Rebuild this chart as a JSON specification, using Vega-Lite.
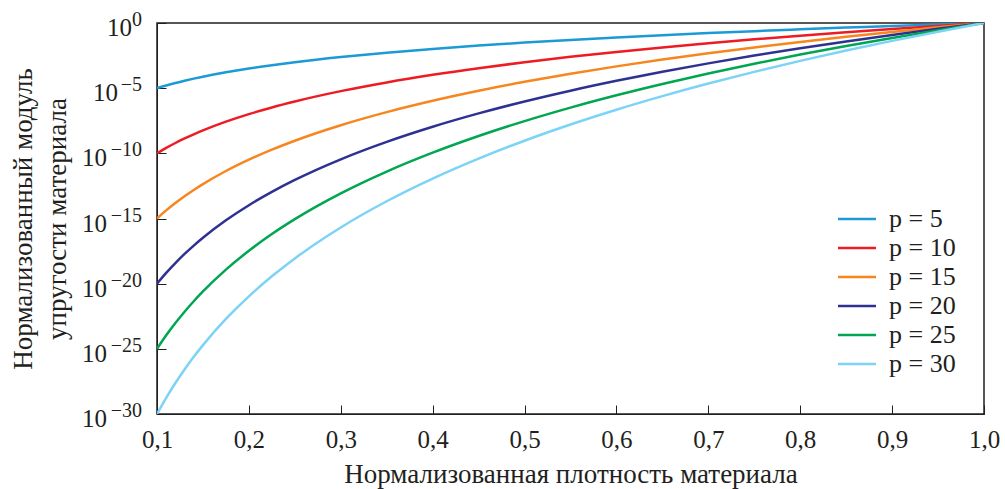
{
  "$schema": "https://vega.github.io/schema/vega-lite/v6.json",
  "width": 827,
  "height": 391,
  "autosize": {"type": "none"},
  "padding": {"left": 157, "top": 23, "right": 21, "bottom": 75},
  "background": "white",
  "config": {
    "font": "Liberation Serif",
    "view": {"stroke": "#231f20", "strokeWidth": 1.5},
    "axis": {
      "labelFont": "Liberation Serif",
      "titleFont": "Liberation Serif",
      "labelColor": "#231f20",
      "titleColor": "#231f20",
      "domainColor": "#231f20",
      "tickColor": "#231f20",
      "labelFontSize": 25,
      "titleFontSize": 27,
      "titleFontWeight": "normal",
      "grid": false,
      "tickSize": -9,
      "tickWidth": 1
    },
    "legend": {
      "labelFont": "Liberation Serif",
      "labelFontSize": 26,
      "labelColor": "#231f20"
    },
    "text": {"font": "Liberation Serif", "color": "#231f20", "baseline": "alphabetic"}
  },
  "datasets": {
    "ylabels": [
      {"lg": 0, "base": "10", "e": "0"},
      {"lg": -5, "base": "10", "e": "−5"},
      {"lg": -10, "base": "10", "e": "−10"},
      {"lg": -15, "base": "10", "e": "−15"},
      {"lg": -20, "base": "10", "e": "−20"},
      {"lg": -25, "base": "10", "e": "−25"},
      {"lg": -30, "base": "10", "e": "−30"}
    ]
  },
  "layer": [
    {
      "data": {
        "values": [
          {"x": 0.10, "p": "p = 5", "lg": -5}, {"x": 0.11, "p": "p = 5", "lg": -4.793}, {"x": 0.12, "p": "p = 5", "lg": -4.604}, {"x": 0.13, "p": "p = 5", "lg": -4.430}, {"x": 0.14, "p": "p = 5", "lg": -4.269}, {"x": 0.15, "p": "p = 5", "lg": -4.120}, {"x": 0.175, "p": "p = 5", "lg": -3.785}, {"x": 0.20, "p": "p = 5", "lg": -3.495}, {"x": 0.225, "p": "p = 5", "lg": -3.239}, {"x": 0.25, "p": "p = 5", "lg": -3.010}, {"x": 0.30, "p": "p = 5", "lg": -2.614}, {"x": 0.35, "p": "p = 5", "lg": -2.280}, {"x": 0.40, "p": "p = 5", "lg": -1.990}, {"x": 0.45, "p": "p = 5", "lg": -1.734}, {"x": 0.50, "p": "p = 5", "lg": -1.505}, {"x": 0.55, "p": "p = 5", "lg": -1.298}, {"x": 0.60, "p": "p = 5", "lg": -1.109}, {"x": 0.65, "p": "p = 5", "lg": -0.935}, {"x": 0.70, "p": "p = 5", "lg": -0.775}, {"x": 0.75, "p": "p = 5", "lg": -0.625}, {"x": 0.80, "p": "p = 5", "lg": -0.485}, {"x": 0.85, "p": "p = 5", "lg": -0.353}, {"x": 0.90, "p": "p = 5", "lg": -0.229}, {"x": 0.95, "p": "p = 5", "lg": -0.111}, {"x": 1.00, "p": "p = 5", "lg": 0},
          {"x": 0.10, "p": "p = 10", "lg": -10}, {"x": 0.11, "p": "p = 10", "lg": -9.586}, {"x": 0.12, "p": "p = 10", "lg": -9.208}, {"x": 0.13, "p": "p = 10", "lg": -8.861}, {"x": 0.14, "p": "p = 10", "lg": -8.539}, {"x": 0.15, "p": "p = 10", "lg": -8.239}, {"x": 0.175, "p": "p = 10", "lg": -7.570}, {"x": 0.20, "p": "p = 10", "lg": -6.990}, {"x": 0.225, "p": "p = 10", "lg": -6.478}, {"x": 0.25, "p": "p = 10", "lg": -6.021}, {"x": 0.30, "p": "p = 10", "lg": -5.229}, {"x": 0.35, "p": "p = 10", "lg": -4.559}, {"x": 0.40, "p": "p = 10", "lg": -3.979}, {"x": 0.45, "p": "p = 10", "lg": -3.468}, {"x": 0.50, "p": "p = 10", "lg": -3.010}, {"x": 0.55, "p": "p = 10", "lg": -2.596}, {"x": 0.60, "p": "p = 10", "lg": -2.218}, {"x": 0.65, "p": "p = 10", "lg": -1.871}, {"x": 0.70, "p": "p = 10", "lg": -1.549}, {"x": 0.75, "p": "p = 10", "lg": -1.249}, {"x": 0.80, "p": "p = 10", "lg": -0.969}, {"x": 0.85, "p": "p = 10", "lg": -0.706}, {"x": 0.90, "p": "p = 10", "lg": -0.458}, {"x": 0.95, "p": "p = 10", "lg": -0.223}, {"x": 1.00, "p": "p = 10", "lg": 0},
          {"x": 0.10, "p": "p = 15", "lg": -15}, {"x": 0.11, "p": "p = 15", "lg": -14.379}, {"x": 0.12, "p": "p = 15", "lg": -13.812}, {"x": 0.13, "p": "p = 15", "lg": -13.291}, {"x": 0.14, "p": "p = 15", "lg": -12.808}, {"x": 0.15, "p": "p = 15", "lg": -12.359}, {"x": 0.175, "p": "p = 15", "lg": -11.354}, {"x": 0.20, "p": "p = 15", "lg": -10.485}, {"x": 0.225, "p": "p = 15", "lg": -9.717}, {"x": 0.25, "p": "p = 15", "lg": -9.031}, {"x": 0.30, "p": "p = 15", "lg": -7.843}, {"x": 0.35, "p": "p = 15", "lg": -6.839}, {"x": 0.40, "p": "p = 15", "lg": -5.969}, {"x": 0.45, "p": "p = 15", "lg": -5.202}, {"x": 0.50, "p": "p = 15", "lg": -4.515}, {"x": 0.55, "p": "p = 15", "lg": -3.895}, {"x": 0.60, "p": "p = 15", "lg": -3.328}, {"x": 0.65, "p": "p = 15", "lg": -2.806}, {"x": 0.70, "p": "p = 15", "lg": -2.324}, {"x": 0.75, "p": "p = 15", "lg": -1.874}, {"x": 0.80, "p": "p = 15", "lg": -1.454}, {"x": 0.85, "p": "p = 15", "lg": -1.059}, {"x": 0.90, "p": "p = 15", "lg": -0.686}, {"x": 0.95, "p": "p = 15", "lg": -0.334}, {"x": 1.00, "p": "p = 15", "lg": 0},
          {"x": 0.10, "p": "p = 20", "lg": -20}, {"x": 0.11, "p": "p = 20", "lg": -19.172}, {"x": 0.12, "p": "p = 20", "lg": -18.416}, {"x": 0.13, "p": "p = 20", "lg": -17.721}, {"x": 0.14, "p": "p = 20", "lg": -17.077}, {"x": 0.15, "p": "p = 20", "lg": -16.478}, {"x": 0.175, "p": "p = 20", "lg": -15.139}, {"x": 0.20, "p": "p = 20", "lg": -13.979}, {"x": 0.225, "p": "p = 20", "lg": -12.956}, {"x": 0.25, "p": "p = 20", "lg": -12.041}, {"x": 0.30, "p": "p = 20", "lg": -10.458}, {"x": 0.35, "p": "p = 20", "lg": -9.119}, {"x": 0.40, "p": "p = 20", "lg": -7.959}, {"x": 0.45, "p": "p = 20", "lg": -6.936}, {"x": 0.50, "p": "p = 20", "lg": -6.021}, {"x": 0.55, "p": "p = 20", "lg": -5.193}, {"x": 0.60, "p": "p = 20", "lg": -4.437}, {"x": 0.65, "p": "p = 20", "lg": -3.742}, {"x": 0.70, "p": "p = 20", "lg": -3.098}, {"x": 0.75, "p": "p = 20", "lg": -2.499}, {"x": 0.80, "p": "p = 20", "lg": -1.938}, {"x": 0.85, "p": "p = 20", "lg": -1.412}, {"x": 0.90, "p": "p = 20", "lg": -0.915}, {"x": 0.95, "p": "p = 20", "lg": -0.446}, {"x": 1.00, "p": "p = 20", "lg": 0},
          {"x": 0.10, "p": "p = 25", "lg": -25}, {"x": 0.11, "p": "p = 25", "lg": -23.965}, {"x": 0.12, "p": "p = 25", "lg": -23.020}, {"x": 0.13, "p": "p = 25", "lg": -22.151}, {"x": 0.14, "p": "p = 25", "lg": -21.347}, {"x": 0.15, "p": "p = 25", "lg": -20.598}, {"x": 0.175, "p": "p = 25", "lg": -18.924}, {"x": 0.20, "p": "p = 25", "lg": -17.474}, {"x": 0.225, "p": "p = 25", "lg": -16.195}, {"x": 0.25, "p": "p = 25", "lg": -15.052}, {"x": 0.30, "p": "p = 25", "lg": -13.072}, {"x": 0.35, "p": "p = 25", "lg": -11.398}, {"x": 0.40, "p": "p = 25", "lg": -9.949}, {"x": 0.45, "p": "p = 25", "lg": -8.670}, {"x": 0.50, "p": "p = 25", "lg": -7.526}, {"x": 0.55, "p": "p = 25", "lg": -6.491}, {"x": 0.60, "p": "p = 25", "lg": -5.546}, {"x": 0.65, "p": "p = 25", "lg": -4.677}, {"x": 0.70, "p": "p = 25", "lg": -3.873}, {"x": 0.75, "p": "p = 25", "lg": -3.123}, {"x": 0.80, "p": "p = 25", "lg": -2.423}, {"x": 0.85, "p": "p = 25", "lg": -1.765}, {"x": 0.90, "p": "p = 25", "lg": -1.144}, {"x": 0.95, "p": "p = 25", "lg": -0.557}, {"x": 1.00, "p": "p = 25", "lg": 0},
          {"x": 0.10, "p": "p = 30", "lg": -30}, {"x": 0.11, "p": "p = 30", "lg": -28.758}, {"x": 0.12, "p": "p = 30", "lg": -27.625}, {"x": 0.13, "p": "p = 30", "lg": -26.582}, {"x": 0.14, "p": "p = 30", "lg": -25.616}, {"x": 0.15, "p": "p = 30", "lg": -24.717}, {"x": 0.175, "p": "p = 30", "lg": -22.709}, {"x": 0.20, "p": "p = 30", "lg": -20.969}, {"x": 0.225, "p": "p = 30", "lg": -19.435}, {"x": 0.25, "p": "p = 30", "lg": -18.062}, {"x": 0.30, "p": "p = 30", "lg": -15.686}, {"x": 0.35, "p": "p = 30", "lg": -13.678}, {"x": 0.40, "p": "p = 30", "lg": -11.938}, {"x": 0.45, "p": "p = 30", "lg": -10.404}, {"x": 0.50, "p": "p = 30", "lg": -9.031}, {"x": 0.55, "p": "p = 30", "lg": -7.789}, {"x": 0.60, "p": "p = 30", "lg": -6.655}, {"x": 0.65, "p": "p = 30", "lg": -5.613}, {"x": 0.70, "p": "p = 30", "lg": -4.647}, {"x": 0.75, "p": "p = 30", "lg": -3.748}, {"x": 0.80, "p": "p = 30", "lg": -2.907}, {"x": 0.85, "p": "p = 30", "lg": -2.117}, {"x": 0.90, "p": "p = 30", "lg": -1.373}, {"x": 0.95, "p": "p = 30", "lg": -0.668}, {"x": 1.00, "p": "p = 30", "lg": 0}
        ]
      },
      "mark": {"type": "line", "strokeWidth": 2.5, "interpolate": "monotone", "clip": true},
      "encoding": {
        "x": {
          "field": "x",
          "type": "quantitative",
          "scale": {"domain": [0.1, 1.0], "nice": false, "zero": false},
          "axis": {
            "values": [0.1, 0.2, 0.3, 0.4, 0.5, 0.6, 0.7, 0.8, 0.9, 1.0],
            "labelExpr": "replace(format(datum.value, '.1f'), '.', ',')",
            "labelPadding": 22,
            "labelFlush": false,
            "title": "Нормализованная плотность материала",
            "titleY": 68,
            "titleBaseline": "alphabetic"
          }
        },
        "y": {
          "field": "lg",
          "type": "quantitative",
          "scale": {"domain": [-30, 0], "nice": false, "zero": false},
          "axis": {
            "values": [-30, -25, -20, -15, -10, -5, 0],
            "labels": false,
            "title": ["Нормализованный модуль", "упругости материала"],
            "titleX": -147,
            "titleBaseline": "top",
            "titleLineHeight": 34
          }
        },
        "color": {
          "field": "p",
          "type": "nominal",
          "scale": {
            "domain": ["p = 5", "p = 10", "p = 15", "p = 20", "p = 25", "p = 30"],
            "range": ["#1c9ad6", "#ed1c24", "#f7861f", "#2e3192", "#00a651", "#7dd3f6"]
          },
          "legend": {
            "title": null,
            "orient": "none",
            "legendX": 687,
            "legendY": 183,
            "symbolType": "M-2,0H2",
            "symbolSize": 361,
            "symbolStrokeWidth": 2.5,
            "symbolFillColor": "transparent",
            "labelOffset": 19,
            "rowPadding": 3
          }
        }
      }
    },
    {
      "data": {"name": "ylabels"},
      "transform": [{"filter": "datum.lg == 0"}],
      "mark": {"type": "text", "align": "right", "dx": -25, "dy": 13, "fontSize": 25},
      "encoding": {
        "x": {"datum": 0.1, "type": "quantitative"},
        "y": {"field": "lg", "type": "quantitative"},
        "text": {"field": "base"}
      }
    },
    {
      "data": {"name": "ylabels"},
      "transform": [{"filter": "datum.lg == -5"}],
      "mark": {"type": "text", "align": "right", "dx": -39, "dy": 13, "fontSize": 25},
      "encoding": {
        "x": {"datum": 0.1, "type": "quantitative"},
        "y": {"field": "lg", "type": "quantitative"},
        "text": {"field": "base"}
      }
    },
    {
      "data": {"name": "ylabels"},
      "transform": [{"filter": "datum.lg <= -10"}],
      "mark": {"type": "text", "align": "right", "dx": -50, "dy": 13, "fontSize": 25},
      "encoding": {
        "x": {"datum": 0.1, "type": "quantitative"},
        "y": {"field": "lg", "type": "quantitative"},
        "text": {"field": "base"}
      }
    },
    {
      "data": {"name": "ylabels"},
      "mark": {"type": "text", "align": "right", "dx": -15, "dy": 3, "fontSize": 20},
      "encoding": {
        "x": {"datum": 0.1, "type": "quantitative"},
        "y": {"field": "lg", "type": "quantitative"},
        "text": {"field": "e"}
      }
    }
  ]
}
